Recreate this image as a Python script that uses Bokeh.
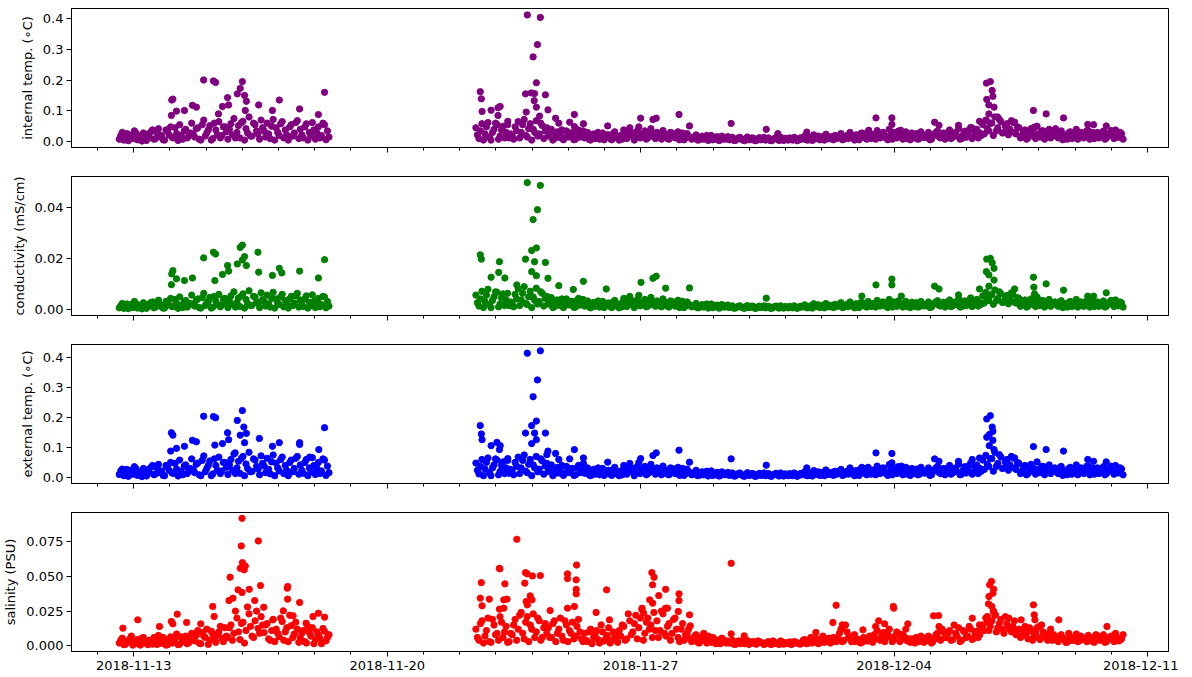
import numpy as np
import pandas as pd
from bokeh.plotting import figure
from bokeh.layouts import column
from bokeh.models import (Range1d, FixedTicker, NumeralTickFormatter, DatetimeTickFormatter,
                          CustomJSTickFormatter)
from bokeh.embed import file_html
from bokeh.resources import INLINE

# ---------------- data ----------------
START = "2018-11-12"          # day 0 of the day offsets below
SEG1_START_DAY = 0.6          # first deployment period
SEG2_START_DAY = 10.45        # second deployment period
STEP_HOURS = 2                # spacing of each band sample list (list B is offset by 1 h)

# internal temperature, 0.001 degC
int_temp_seg1 = [8,30,12,3,22,35,6,18,28,4,14,38,
                 10,42,20,5,33,48,12,26,55,8,40,18,
                 60,15,45,5,70,28,52,10,38,65,20,48,
                 8,58,75,30,12,66,42,80,18,55,25,70,
                 35,60,10,72,45,20,65,38,5,55,28,68,
                 40,12,58,30,62,8,48,20,55,35]
int_temp_seg1_b = [20,5,26,15,10,28,18,2,12,24,32,8,
                   30,16,6,38,22,14,45,4,20,35,12,28,
                   25,42,8,55,18,38,5,60,22,12,48,32,
                   40,22,12,52,62,5,28,18,60,35,8,45,
                   15,25,50,5,30,58,12,22,48,18,62,10,
                   22,48,5,18,38,28,12,60,6,15]
int_temp_seg2 = [45,10,58,25,62,5,40,55,18,50,30,12,
                 20,48,65,30,72,15,58,40,68,25,52,35,
                 18,40,10,32,22,6,35,15,28,8,38,20,
                 12,30,5,25,18,8,28,14,22,6,32,16,
                 20,38,10,45,28,15,48,22,35,12,42,25,
                 30,14,36,20,8,28,12,32,18,6,26,15,
                 10,22,6,18,12,4,20,8,16,5,14,10,
                 6,14,4,12,8,3,15,7,11,4,13,8,
                 5,12,3,10,7,14,4,9,12,5,10,6,
                 8,18,5,14,22,10,6,16,24,9,14,20,
                 12,26,8,20,30,14,22,6,28,16,32,10,
                 24,36,12,30,18,40,8,28,34,15,25,10,
                 6,18,26,10,22,14,30,8,24,35,12,28,
                 20,38,14,30,42,10,34,24,46,18,40,28,
                 55,70,35,60,80,45,65,30,58,40,62,25,
                 45,20,38,12,42,28,50,15,35,22,40,18,
                 30,12,35,22,8,32,18,40,14,28,20,36,
                 24,10,30,16,34,12,28,20,38,14,26]
int_temp_seg2_b = [22,35,5,48,15,30,60,8,38,12,55,25,
                   8,35,12,55,20,42,5,30,18,60,10,45,
                   28,5,22,14,38,12,20,28,6,30,15,35,
                   20,8,18,10,30,14,6,22,10,26,12,5,
                   8,25,30,18,5,35,12,28,8,24,18,10,
                   20,8,25,10,30,16,22,6,28,12,18,8,
                   16,5,14,8,20,10,6,14,4,18,8,16,
                   10,4,8,14,5,10,6,12,3,9,6,14,
                   10,4,8,13,4,6,11,5,7,14,3,12,
                   14,6,12,4,10,18,14,5,12,16,6,10,
                   20,6,16,10,18,5,12,26,14,8,18,22,
                   8,18,28,14,6,22,30,12,18,8,32,20,
                   28,12,8,32,14,20,6,18,30,16,22,8,
                   30,10,26,18,8,22,14,38,10,30,12,20,
                   25,42,60,20,35,72,28,50,22,68,30,48,
                   12,30,8,28,20,10,25,35,8,30,12,28,
                   18,26,6,14,28,10,24,8,30,12,36,8,
                   30,18,12,26,8,22,36,10,16,30,8]
int_temp_out_day = [2.93,3.20,3.26,4.00,3.94,3.86,4.06,4.11,3.59,2.05,2.08,6.27,5.02,5.58,4.83,4.45,
                    2.62,2.73,2.40,2.18,3.34,3.45,3.62,4.08,6.10,2.04,
                    11.87,12.23,12.15,12.03,12.12,10.57,10.60,10.62,11.82,11.98,12.07,12.37,12.06,12.12,
                    10.87,11.06,11.12,11.06,12.44,11.84,12.21,12.65,13.17,13.04,13.42,12.74,13.17,14.09,
                    15.00,15.34,15.43,16.06,16.35,17.50,18.47,18.79,19.59,11.33,21.50,21.94,21.94,23.12,
                    23.24,23.78,24.16,24.36,24.55,24.66,24.71,24.73,24.56,24.62,24.76,24.62,24.86,24.55,
                    25.33,25.85,26.20,26.68,25.87,26.46,27.35,27.51,27.86,22.18,21.30]
int_temp_out_val = [200,197,192,195,173,155,150,131,143,135,138,160,135,106,101,119,
                    118,112,101,99,90,114,119,101,88,85,
                    411,403,315,275,191,162,139,98,155,158,156,152,133,112,
                    102,110,114,85,103,96,83,76,88,63,58,60,49,51,
                    76,72,76,88,51,59,40,26,31,66,77,77,56,63,
                    53,53,44,66,190,195,166,147,137,119,112,90,80,69,
                    63,101,90,77,47,42,56,55,51,37,37]

# conductivity, 0.0001 mS/cm
cond_seg1 = [5,22,10,2,18,30,4,14,25,3,12,28,
             8,35,16,4,28,42,10,22,48,6,34,15,
             55,12,40,4,62,24,46,8,32,58,18,42,
             6,52,68,26,10,60,38,72,15,48,22,64,
             30,55,8,66,40,18,58,34,4,50,24,62,
             36,10,52,26,56,6,42,18,48,30]
cond_seg1_b = [14,3,20,10,6,22,12,1,8,18,26,5,
               24,12,4,30,16,10,38,3,15,28,8,22,
               20,34,6,45,14,30,4,50,18,9,40,26,
               32,18,8,44,52,4,22,14,50,28,6,38,
               12,20,42,4,24,48,9,18,40,14,52,8,
               18,40,4,14,30,22,9,50,5,12]
cond_seg2 = [55,12,70,30,78,6,48,66,20,60,36,14,
             24,58,80,36,88,18,70,48,82,30,62,42,
             20,45,10,36,25,6,40,16,30,8,42,22,
             12,32,5,26,18,8,30,14,24,6,34,17,
             22,42,10,50,30,16,54,24,38,12,46,28,
             32,14,40,22,8,30,12,35,18,6,28,15,
             10,22,6,18,12,4,20,8,16,5,14,10,
             6,13,4,11,8,3,14,7,10,4,12,8,
             5,11,3,9,7,13,4,8,11,5,9,6,
             8,17,5,13,21,10,6,15,22,9,13,19,
             12,25,8,19,28,14,21,6,26,15,30,10,
             22,34,12,28,17,38,8,26,32,14,24,10,
             6,17,25,10,21,13,28,8,23,33,12,27,
             19,36,13,28,40,10,32,23,44,17,38,27,
             52,66,34,56,75,42,60,28,54,38,58,24,
             42,19,36,12,40,26,47,14,33,21,38,17,
             28,11,33,21,8,30,17,38,13,26,19,34,
             23,10,28,15,32,11,26,19,36,13,24]
cond_seg2_b = [25,40,6,55,18,34,68,9,44,14,62,28,
               9,40,14,62,22,48,6,34,20,68,12,50,
               30,6,24,15,40,13,22,30,7,33,16,38,
               21,9,19,11,32,15,6,23,11,28,13,5,
               9,27,32,19,6,37,13,30,9,26,19,11,
               21,9,27,11,32,17,23,6,30,13,19,9,
               16,5,14,8,20,10,6,14,4,18,8,16,
               10,4,8,13,5,10,6,12,3,9,6,13,
               9,4,8,12,4,6,10,5,7,13,3,11,
               13,6,11,4,10,17,13,5,11,15,6,10,
               19,6,15,10,17,5,12,25,13,8,17,21,
               8,17,27,13,6,21,28,11,17,8,30,19,
               27,11,8,30,13,19,6,17,28,15,21,8,
               28,10,25,17,8,21,13,36,10,28,12,19,
               24,40,56,19,33,68,26,47,21,64,28,45,
               11,28,8,26,19,10,24,33,8,28,11,26,
               17,24,6,13,26,10,22,8,28,11,34,8,
               28,17,11,24,8,21,34,10,15,28,8]
cond_out_day = [2.93,3.20,3.26,3.94,4.00,4.06,4.43,4.11,4.00,3.86,3.59,2.08,2.05,6.27,5.02,5.58,
                4.83,4.45,2.62,2.40,2.18,3.24,3.45,3.62,6.10,2.04,5.09,
                11.87,12.23,12.15,12.03,12.12,11.99,10.57,10.60,11.82,12.07,12.37,11.10,10.87,11.08,
                11.25,11.99,12.12,12.44,11.58,12.74,13.42,13.14,14.05,15.01,15.34,15.43,15.69,16.35,
                18.47,24.56,24.66,24.71,24.76,24.55,24.62,24.76,24.62,24.36,21.50,21.94,21.94,23.12,
                23.24,23.78,25.33,25.85,25.86,25.88,26.20,26.68,27.86,27.35,27.51,21.11,22.20]
cond_out_val = [201,223,216,242,251,206,223,171,193,177,171,151,138,194,160,149,
                132,145,122,112,119,112,136,149,122,96,142,
                496,485,390,351,240,230,213,196,196,186,183,186,125,144,
                122,147,131,121,95,92,109,77,79,105,121,129,82,83,
                43,196,199,181,160,147,134,114,90,79,95,118,95,90,
                79,56,79,125,86,60,99,74,64,51,51,51,51]

# external temperature, 0.001 degC
ext_temp_seg1 = [10,28,14,4,24,36,7,20,30,5,15,40,
                 12,44,22,6,35,50,14,28,58,9,42,20,
                 62,16,48,6,72,30,55,12,40,68,22,50,
                 10,60,78,32,14,70,45,84,20,58,28,72,
                 38,64,12,75,48,22,68,40,6,58,30,70,
                 42,14,60,32,66,10,50,22,58,38]
ext_temp_seg1_b = [22,6,27,16,11,30,19,3,13,26,34,9,
                   32,17,7,40,24,15,47,5,21,37,13,30,
                   27,44,9,57,19,40,6,62,24,13,50,34,
                   42,24,13,54,64,6,30,19,62,37,9,47,
                   16,27,52,6,32,60,13,24,50,19,64,11,
                   24,50,6,19,40,30,13,62,7,16]
ext_temp_seg2 = [48,12,60,28,65,6,42,58,20,52,32,14,
                 22,50,68,32,75,16,60,42,70,28,55,38,
                 20,42,12,34,24,7,37,16,30,9,40,22,
                 14,32,6,27,19,9,30,15,24,7,34,18,
                 22,40,11,47,30,16,50,24,37,13,44,27,
                 32,15,38,22,9,30,13,34,20,7,28,16,
                 11,24,7,19,13,5,22,9,17,6,15,11,
                 7,15,5,13,9,4,16,8,12,5,14,9,
                 6,13,4,11,8,15,5,10,13,6,11,7,
                 9,19,6,15,23,11,7,17,25,10,15,21,
                 13,27,9,21,32,15,23,7,30,17,34,11,
                 25,38,13,32,19,42,9,30,36,16,27,11,
                 7,19,28,11,24,15,32,9,26,37,13,30,
                 21,40,15,32,44,11,36,25,48,19,42,30,
                 58,74,37,63,84,47,68,32,60,42,65,27,
                 47,21,40,13,44,30,52,16,37,23,42,19,
                 32,13,37,23,9,34,19,42,15,30,21,38,
                 25,11,32,17,36,13,30,21,40,15,28]
ext_temp_seg2_b = [24,37,6,50,16,32,62,9,40,13,57,27,
                   9,37,13,57,21,44,6,32,19,62,11,47,
                   30,6,23,15,40,13,21,30,7,32,16,37,
                   21,9,19,11,32,15,7,23,11,27,13,6,
                   9,26,32,19,6,37,13,30,9,25,19,11,
                   21,9,26,11,32,17,23,7,30,13,19,9,
                   17,6,15,9,21,11,7,15,5,19,9,17,
                   11,5,9,15,6,11,7,13,4,10,7,15,
                   11,5,9,14,5,7,12,6,8,15,4,13,
                   15,7,13,5,11,19,15,6,13,17,7,11,
                   21,7,17,11,19,6,13,28,15,9,19,24,
                   9,19,30,15,7,24,32,13,19,9,34,21,
                   30,13,9,34,15,21,7,19,32,17,24,9,
                   32,11,28,19,9,24,15,40,11,32,13,21,
                   27,44,63,21,37,76,30,52,24,70,32,50,
                   13,32,9,30,21,11,27,37,9,32,13,30,
                   19,28,7,15,30,11,26,9,32,13,38,9,
                   32,19,13,28,9,24,38,11,17,32,9]
ext_temp_out_day = [2.93,3.20,3.26,4.00,3.86,4.04,4.11,3.94,3.59,2.04,2.08,6.27,5.58,5.58,5.02,4.47,
                    4.83,2.62,2.73,2.40,2.18,3.62,3.45,4.06,3.24,2.02,6.11,5.86,3.80,
                    11.87,12.23,12.15,12.03,12.12,11.99,11.82,12.07,12.37,10.57,10.60,10.62,10.87,11.03,
                    11.12,11.10,11.99,12.12,12.44,12.41,12.65,13.17,13.42,13.42,13.04,12.74,14.09,15.00,
                    15.34,15.43,16.06,16.35,17.50,18.47,19.59,11.33,21.50,21.94,21.94,23.12,23.24,23.78,
                    24.16,24.36,24.56,24.66,24.71,24.73,24.56,24.63,24.73,24.63,24.76,25.33,25.85,26.20,
                    26.68,21.87,21.11,22.20,27.35,27.51,27.86]
ext_temp_out_val = [204,203,199,223,190,168,147,141,149,149,141,166,116,110,116,130,
                    104,124,119,104,97,126,113,116,108,88,93,68,82,
                    414,422,325,269,188,173,148,148,148,173,145,126,106,117,
                    106,93,113,126,88,76,80,93,65,47,62,60,51,63,
                    73,82,91,51,62,41,32,63,82,80,49,62,54,54,
                    60,65,195,206,168,154,134,143,124,106,93,65,103,93,
                    88,43,34,38,60,54,52]

# salinity, 0.0001 PSU
sal_seg1 = [20,55,10,35,70,15,45,5,60,25,40,12,
            30,75,18,50,8,65,28,85,12,45,70,22,
            90,35,110,15,70,120,40,85,25,100,55,130,
            60,150,90,200,45,170,110,230,70,180,125,210,
            95,160,40,190,120,65,175,100,30,145,85,120,
            55,110,20,95,130,45,80,15,105,60]
sal_seg1_b = [40,8,25,50,5,30,12,55,20,8,35,60,
              10,45,60,5,35,20,50,8,65,30,15,55,
              45,75,20,95,60,10,105,50,80,140,30,70,
              130,40,250,100,160,20,280,140,60,250,90,150,
              150,50,110,30,90,200,40,130,220,60,170,25,
              90,30,140,70,15,100,55,125,35,80]
sal_seg2 = [120,40,180,70,200,25,150,90,210,60,140,30,
            80,190,120,240,50,210,150,230,100,180,60,160,
            130,60,180,90,200,40,150,110,170,70,190,50,
            90,30,120,60,110,20,100,50,130,40,80,25,
            70,140,50,180,100,220,130,260,90,200,150,240,
            180,110,230,70,160,90,200,60,120,40,90,50,
            40,80,20,60,35,70,25,50,30,15,45,20,
            20,40,10,35,25,15,38,18,30,12,28,20,
            15,30,10,25,18,35,12,22,28,14,26,16,
            25,45,18,60,30,50,22,70,35,55,28,40,
            60,120,40,100,70,50,30,45,25,55,35,50,
            80,110,40,95,60,120,30,70,90,45,65,35,
            25,45,60,30,50,35,70,20,55,90,40,100,
            60,110,45,90,130,40,100,70,120,55,105,80,
            150,200,110,180,220,130,190,90,160,120,140,80,
            120,70,140,50,110,80,130,45,100,60,90,40,
            70,30,80,50,25,65,40,85,35,60,45,75,
            55,25,70,40,80,30,60,45,90,35,50]
sal_seg2_b = [60,160,20,110,30,190,80,40,170,100,25,90,
              150,40,220,90,170,30,120,60,200,40,130,90,
              60,160,30,120,70,180,30,90,50,140,100,30,
              40,100,15,80,45,150,35,75,20,100,60,110,
              150,40,230,80,160,50,200,40,170,120,60,110,
              60,250,90,140,40,190,120,30,160,80,120,30,
              70,25,50,90,20,45,60,15,40,55,25,35,
              30,12,25,15,40,20,10,28,15,35,25,10,
              25,12,35,15,10,28,20,15,10,30,20,12,
              40,15,30,20,45,15,40,25,50,20,60,30,
              90,30,150,60,30,80,45,20,60,35,70,25,
              50,180,70,30,100,60,45,100,30,80,120,50,
              50,20,40,70,25,60,45,30,80,50,120,60,
              90,40,150,70,30,110,60,140,45,90,60,130,
              110,170,140,250,100,160,120,210,130,100,180,110,
              60,110,90,130,40,100,60,150,70,40,120,80,
              40,60,55,25,90,40,60,30,70,45,30,55,
              30,80,45,60,25,55,70,30,60,40,80]
sal_out_day = [3.99,3.97,4.44,4.00,3.94,4.05,4.08,4.05,3.66,4.50,4.19,3.88,3.99,5.24,5.25,5.25,
               5.58,3.18,3.63,3.74,4.34,2.20,6.10,6.27,1.11,0.70,2.04,2.08,2.46,2.85,3.22,4.59,
               5.13,5.40,5.95,5.76,4.84,1.71,
               11.58,17.50,11.10,11.11,10.60,11.25,11.82,11.87,12.01,12.23,11.80,12.98,12.98,13.23,
               13.22,13.22,13.22,14.06,15.31,15.37,15.33,15.69,15.50,16.06,16.06,15.25,15.33,10.57,
               10.62,10.82,11.22,11.31,11.10,11.22,11.95,12.00,11.87,11.84,12.50,12.98,13.17,13.77,
               14.14,15.04,15.08,15.69,15.74,16.04,16.35,16.37,20.40,20.31,20.57,20.57,19.84,17.50,
               17.86,24.69,24.64,24.73,24.62,24.75,24.61,24.70,24.75,24.80,24.58,21.98,21.99,21.74,
               22.38,21.49,23.09,23.23,23.24,23.28,24.16,24.36,25.17,25.51,25.85,25.87,25.89,25.91,
               26.55,26.00,27.88,21.14]
sal_out_val = [918,719,755,599,558,575,575,547,494,434,407,403,384,415,427,336,
               312,283,326,343,326,228,235,206,187,127,175,158,168,158,211,278,
               252,216,211,163,187,139,
               767,594,558,554,455,446,527,518,503,506,451,518,484,582,
               475,407,374,403,527,494,439,407,362,374,326,331,307,343,
               288,336,331,336,264,271,360,331,295,319,254,271,283,240,
               187,271,235,271,271,247,223,144,292,168,151,127,96,86,
               72,463,439,379,355,407,302,283,247,223,211,283,271,158,
               158,139,216,218,139,120,199,151,199,187,295,223,187,103,
               187,139,139,115]

y_labels = ["internal temp. (\u2218C)", "conductivity (mS/cm)", "external temp. (\u2218C)", "salinity (PSU)"]
colors = ["purple", "green", "blue", "red"]
tick_dates = ["2018-11-13", "2018-11-20", "2018-11-27", "2018-12-04", "2018-12-11"]

# ---------------- helpers ----------------
DAY_MS = 86400000.0
base_ms = pd.Timestamp(START).value / 1e6


def band_days(start_day, n, offset_h=0.0):
    return start_day + (offset_h + np.arange(n) * STEP_HOURS) / 24.0


def series(s1a, s1b, s2a, s2b, out_day, out_val, unit):
    d = np.concatenate([band_days(SEG1_START_DAY, len(s1a)),
                        band_days(SEG1_START_DAY, len(s1b), 1.0),
                        band_days(SEG2_START_DAY, len(s2a)),
                        band_days(SEG2_START_DAY, len(s2b), 1.0),
                        np.array(out_day, dtype=float)])
    v = np.concatenate([np.array(s1a, float), np.array(s1b, float),
                        np.array(s2a, float), np.array(s2b, float),
                        np.array(out_val, float)]) * unit
    return base_ms + d * DAY_MS, v


data = [
    series(int_temp_seg1, int_temp_seg1_b, int_temp_seg2, int_temp_seg2_b,
           int_temp_out_day, int_temp_out_val, 0.001),
    series(cond_seg1, cond_seg1_b, cond_seg2, cond_seg2_b, cond_out_day, cond_out_val, 0.0001),
    series(ext_temp_seg1, ext_temp_seg1_b, ext_temp_seg2, ext_temp_seg2_b,
           ext_temp_out_day, ext_temp_out_val, 0.001),
    series(sal_seg1, sal_seg1_b, sal_seg2, sal_seg2_b, sal_out_day, sal_out_val, 0.0001),
]

y_ranges = [(-0.019, 0.432), (-0.0025, 0.052), (-0.020, 0.443), (-0.0041, 0.096)]
y_ticks = [[0, 0.1, 0.2, 0.3, 0.4], [0, 0.02, 0.04], [0, 0.1, 0.2, 0.3, 0.4], [0, 0.025, 0.05, 0.075]]
y_fmts = ["0.0", "0.00", "0.0", "0.000"]

XMIN_DAY, XMAX_DAY = -0.72, 29.58
major_ms = [pd.Timestamp(t).value / 1e6 for t in tick_dates]
minor_ms = [base_ms + k * DAY_MS for k in range(-1, 31)]

FONT = "DejaVu Sans"
FS = "13px"

figs = []
for i in range(4):
    last = i == 3
    p = figure(output_backend="svg", toolbar_location=None,
               frame_width=1097, frame_height=139,
               x_range=Range1d(base_ms + XMIN_DAY * DAY_MS, base_ms + XMAX_DAY * DAY_MS),
               y_range=Range1d(*y_ranges[i]),
               min_border_left=66, min_border_right=10,
               min_border_top=8 if i == 0 else 15,
               min_border_bottom=24 if last else 14,
               background_fill_color="white", border_fill_color="white")
    p.outline_line_color = "black"
    p.outline_line_width = 1
    p.grid.visible = False

    x, y = data[i]
    p.scatter(x, y, size=6.3, color=colors[i], line_color=colors[i])

    xa = p.xaxis[0]
    xa.ticker = FixedTicker(ticks=major_ms, minor_ticks=minor_ms)
    xa.major_tick_in = 0
    xa.major_tick_out = 5
    xa.minor_tick_in = 0
    xa.minor_tick_out = 3
    xa.axis_line_color = "black"
    xa.major_tick_line_color = "black"
    xa.minor_tick_line_color = "black"
    xa.major_label_text_font = FONT
    xa.major_label_text_color = "black"
    xa.major_label_text_font_size = FS
    if last:
        xa.formatter = DatetimeTickFormatter(days="%Y-%m-%d", months="%Y-%m-%d",
                                             hours="%Y-%m-%d", years="%Y-%m-%d")
        xa.major_label_standoff = 4
    else:
        xa.formatter = CustomJSTickFormatter(code="return ''")
        xa.major_label_standoff = 0

    ya = p.yaxis[0]
    ya.ticker = FixedTicker(ticks=y_ticks[i], minor_ticks=[])
    ya.formatter = NumeralTickFormatter(format=y_fmts[i])
    ya.major_tick_in = 0
    ya.major_tick_out = 5
    ya.axis_line_color = "black"
    ya.major_tick_line_color = "black"
    ya.major_label_text_font = FONT
    ya.major_label_text_font_size = FS
    ya.major_label_text_color = "black"
    ya.major_label_standoff = 3
    ya.axis_label = y_labels[i]
    ya.axis_label_text_font = FONT
    ya.axis_label_text_font_size = FS
    ya.axis_label_text_font_style = "normal"
    ya.axis_label_text_color = "black"
    ya.axis_label_standoff = 5
    figs.append(p)

layout = column(*figs, spacing=0)
open("out.html", "w").write(file_html(layout, INLINE))
